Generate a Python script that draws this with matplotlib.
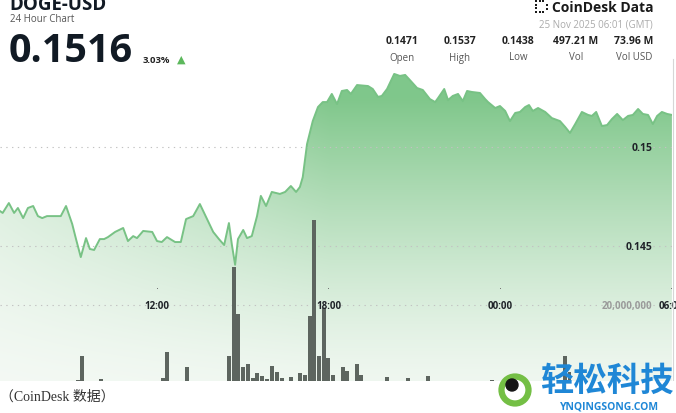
import numpy as np
import matplotlib
matplotlib.use("Agg")
import matplotlib.pyplot as plt
from matplotlib.patches import Circle, Rectangle
from matplotlib.lines import Line2D
from matplotlib.transforms import Affine2D, blended_transform_factory

W, H = 676, 414

# DOGE-USD price, minutes after 06:00 GMT on 24 Nov
minutes = [30, 36, 49, 60, 68, 79, 89, 100, 110, 119,
           129, 142, 158, 169, 182, 190, 200, 211, 219, 228,
           240, 249, 257, 272, 289, 299, 310, 318, 331, 350,
           360, 370, 381, 398, 410, 421, 436, 450, 465, 478,
           490, 501, 511, 517, 524, 530, 541, 549, 559, 570,
           578, 589, 601, 618, 629, 641, 652, 660, 666, 675,
           687, 698, 708, 717, 727, 738, 748, 759, 767, 780,
           803, 813, 824, 832, 843, 858, 870, 881, 891, 906,
           918, 933, 944, 950, 963, 971, 981, 992, 1002, 1011,
           1021, 1038, 1049, 1055, 1070, 1080, 1091, 1101, 1112, 1122,
           1133, 1141, 1149, 1160, 1175, 1189, 1206, 1217, 1227, 1238,
           1252, 1265, 1273, 1282, 1294, 1305, 1315, 1326, 1338, 1349,
           1359, 1370, 1380, 1391, 1401, 1410, 1420, 1431, 1441]
price = [0.14677, 0.14667, 0.14717, 0.14667, 0.14692, 0.14641, 0.14692, 0.14702, 0.14651, 0.14641,
         0.14651, 0.14651, 0.14651, 0.14702, 0.14611, 0.14535, 0.14444, 0.14540, 0.14485, 0.14480,
         0.14535, 0.14535, 0.14545, 0.14571, 0.14591, 0.14525, 0.14550, 0.14540, 0.14576, 0.14571,
         0.14525, 0.14520, 0.14545, 0.14520, 0.14520, 0.14636, 0.14651, 0.14712, 0.14636, 0.14571,
         0.14535, 0.14505, 0.14616, 0.14510, 0.14405, 0.14535, 0.14581, 0.14540, 0.14550, 0.14651,
         0.14753, 0.14702, 0.14773, 0.14763, 0.14773, 0.14803, 0.14773, 0.14798, 0.14848, 0.15015,
         0.15131, 0.15202, 0.15227, 0.15227, 0.15268, 0.15217, 0.15283, 0.15288, 0.15268, 0.15313,
         0.15308, 0.15293, 0.15253, 0.15258, 0.15293, 0.15369, 0.15359, 0.15364, 0.15338, 0.15298,
         0.15288, 0.15242, 0.15227, 0.15247, 0.15293, 0.15237, 0.15258, 0.15268, 0.15232, 0.15283,
         0.15278, 0.15273, 0.15242, 0.15227, 0.15197, 0.15207, 0.15182, 0.15131, 0.15172, 0.15177,
         0.15202, 0.15212, 0.15182, 0.15197, 0.15177, 0.15146, 0.15131, 0.15101, 0.15071, 0.15116,
         0.15177, 0.15162, 0.15157, 0.15177, 0.15106, 0.15111, 0.15141, 0.15167, 0.15136, 0.15157,
         0.15162, 0.15192, 0.15167, 0.15162, 0.15116, 0.15157, 0.15177, 0.15167, 0.15162]

# 10-minute volume bars (millions of DOGE)
vol_minutes = [194, 203, 242, 373, 381, 423, 511, 522, 530, 541,
               551, 562, 570, 580, 591, 601, 612, 622, 641, 660,
               671, 681, 690, 700, 711, 719, 730, 750, 759, 780,
               788, 843, 887, 929, 1063, 1216, 1226]
volume = [2.1, 7.9, 2.4, 2.6, 8.8, 5.2, 7.9, 29.0, 17.9, 5.2,
          6.0, 2.6, 3.8, 3.1, 2.4, 5.5, 4.0, 2.6, 2.9, 3.8,
          3.3, 17.4, 40.2, 7.9, 19.3, 7.4, 3.3, 5.2, 4.3, 6.0,
          3.3, 2.9, 2.6, 3.1, 2.1, 7.9, 4.0]

price_ticks = [0.145, 0.15]
price_labels = ["0.145", "0.15"]
time_ticks = [360, 720, 1080, 1440]
time_labels = ["12:00", "18:00", "00:00", "06:00"]
vol_tick = 20
vol_label = "20,000,000"

stat_values = ["0.1471", "0.1537", "0.1438", "497.21 M", "73.96 M"]
stat_names = ["Open", "High", "Low", "Vol", "Vol USD"]

FONT = "Open Sans"
fig = plt.figure(figsize=(W / 100, H / 100), dpi=100)
pix = Affine2D().scale(1 / W, -1 / H).translate(0, 1) + fig.transFigure


def ptext(x, y, s, **kw):
    kw.setdefault("family", FONT)
    return fig.text(x / W, 1 - y / H, s, **kw)


rect = [0, 32 / H, 672 / W, 382 / H]
xlim = (30.4, 1441.2)
plim = (0.138182, 0.157475)
vlim = (1.905, 92.86)

ax_fill = fig.add_axes(rect)
ax_vol = fig.add_axes(rect)
ax_line = fig.add_axes(rect)
for a in (ax_fill, ax_vol, ax_line):
    a.set_xlim(*xlim)
    a.axis("off")
    a.patch.set_alpha(0)
ax_fill.set_ylim(*plim)
ax_line.set_ylim(*plim)
ax_vol.set_ylim(*vlim)

# gradient area under the price line
yy = np.arange(382) + 0.5
xx = np.arange(672) + 0.5
av = 0.06 + 0.94 * np.clip((382 - yy) / 282, 0, 1) ** 1.3
gx = 0.35 + 0.65 * np.clip(xx / 330, 0, 1)
alpha = av[:, None] * gx[None, :]
top_c = np.array([128, 199, 139]) / 255
bot_c = np.array([246, 250, 246]) / 255
img = bot_c + alpha[..., None] * (top_c - bot_c)
im = ax_fill.imshow(img, extent=(xlim[0], xlim[1], plim[0], plim[1]),
                    aspect="auto", origin="upper", zorder=1)
area = ax_fill.fill_between(minutes, price, plim[0], facecolor="none", edgecolor="none")
im.set_clip_path(area.get_paths()[0], ax_fill.transData)

grid_kw = dict(color="#c2c2c2", lw=0.8, ls=(0, (1.2, 4)), zorder=2)
for p in price_ticks:
    ax_fill.axhline(p, **grid_kw)
ax_vol.axhline(vol_tick, **grid_kw)

# volume bars
ax_vol.bar(vol_minutes, volume, width=7.5, color="#5d655f", zorder=3)

# price line
ax_line.plot(minutes, price, color="#78c285", lw=1.4, solid_joinstyle="round", zorder=4)

# axis labels
bx = blended_transform_factory(ax_line.transAxes, ax_line.transData)
for p, s in zip(price_ticks, price_labels):
    ax_line.text(652 / 672, p, s, transform=bx, ha="right", va="center",
                 fontsize=7.5, fontweight="bold", color="#1f2328", family=FONT)
bv = blended_transform_factory(ax_vol.transAxes, ax_vol.transData)
ax_vol.text(652 / 672, vol_tick, vol_label, transform=bv, ha="right", va="center",
            fontsize=7, fontweight="bold", color="#9a9a9a", family=FONT)
for t, s in zip(time_ticks, time_labels):
    ax_vol.text(t, vol_tick, s, ha="center", va="center", fontsize=7,
                fontweight="bold", color="#1f2328", family=FONT, clip_on=False)
ax_vol.plot(time_ticks, [24] * len(time_ticks), "s", ms=0.7, mew=0, color="#777", zorder=5)

fig.add_artist(Line2D([672.5, 672.5], [60, 382], transform=pix, color="#d6d6d6", lw=0.8))

# header
ptext(9, 10, "DOGE-USD", fontsize=13.5, fontweight="bold", color="#121a24", va="baseline")
ptext(10, 19, "24 Hour Chart", fontsize=7, color="#555555", va="center")
ptext(9, 62, "0.1516", fontsize=28.5, fontweight="bold", color="#111a24", va="baseline")
ptext(143, 63, "3.03%", fontsize=6.8, fontweight="bold", color="#222222", va="baseline")
ptext(177, 63, "\u25B2", fontsize=8, color="#5cb85c", va="baseline", family="DejaVu Sans")

ptext(653, 8, "CoinDesk Data", fontsize=10, fontweight="bold", color="#1a1a1a",
      ha="right", va="center")
for (dx, dy) in [(535, 1), (535, 4.5), (535, 8), (535, 11.5), (538.5, 1), (542, 1),
                 (538.5, 11.5), (542, 11.5), (546, 4.5), (546, 8.5)]:
    fig.add_artist(Rectangle((dx, dy), 2.2, 2.2, transform=pix, color="#1a1a1a", lw=0))
ptext(653, 25, "25 Nov 2025 06:01 (GMT)", fontsize=7, color="#ababab", ha="right", va="center")

stat_x = [402, 460, 518, 576, 634]
for x, v, n in zip(stat_x, stat_values, stat_names):
    ptext(x, 42, v, fontsize=7.5, fontweight="bold", color="#222222", ha="center", va="center")
    ptext(x, 58, n, fontsize=7, color="#555555", ha="center", va="center")

# bottom caption and watermark
fig.add_artist(Rectangle((0, 382), 676, 40, transform=pix, color="white", lw=0, zorder=5))
ptext(0, 397, "（CoinDesk 数据）", fontsize=10, color="#333333", va="center",
      family=["Liberation Serif", "Noto Sans CJK SC"], zorder=6)
fig.add_artist(Circle((515, 391), 13.5, transform=pix, facecolor="white",
                      edgecolor="#74bf45", lw=4.5, zorder=6))
fig.add_artist(Circle((512, 386), 6, transform=pix, color="#151515", zorder=7))
ptext(607, 381, "轻松科技", fontsize=24, fontweight="bold", color="#1f87d6",
      ha="center", va="center", family="Noto Sans CJK SC", zorder=7)
ptext(609, 407, "YNQINGSONG.COM", fontsize=7.5, fontweight="bold", color="#1f87d6",
      ha="center", va="center", zorder=7)

fig.savefig("out.png", dpi=100)
